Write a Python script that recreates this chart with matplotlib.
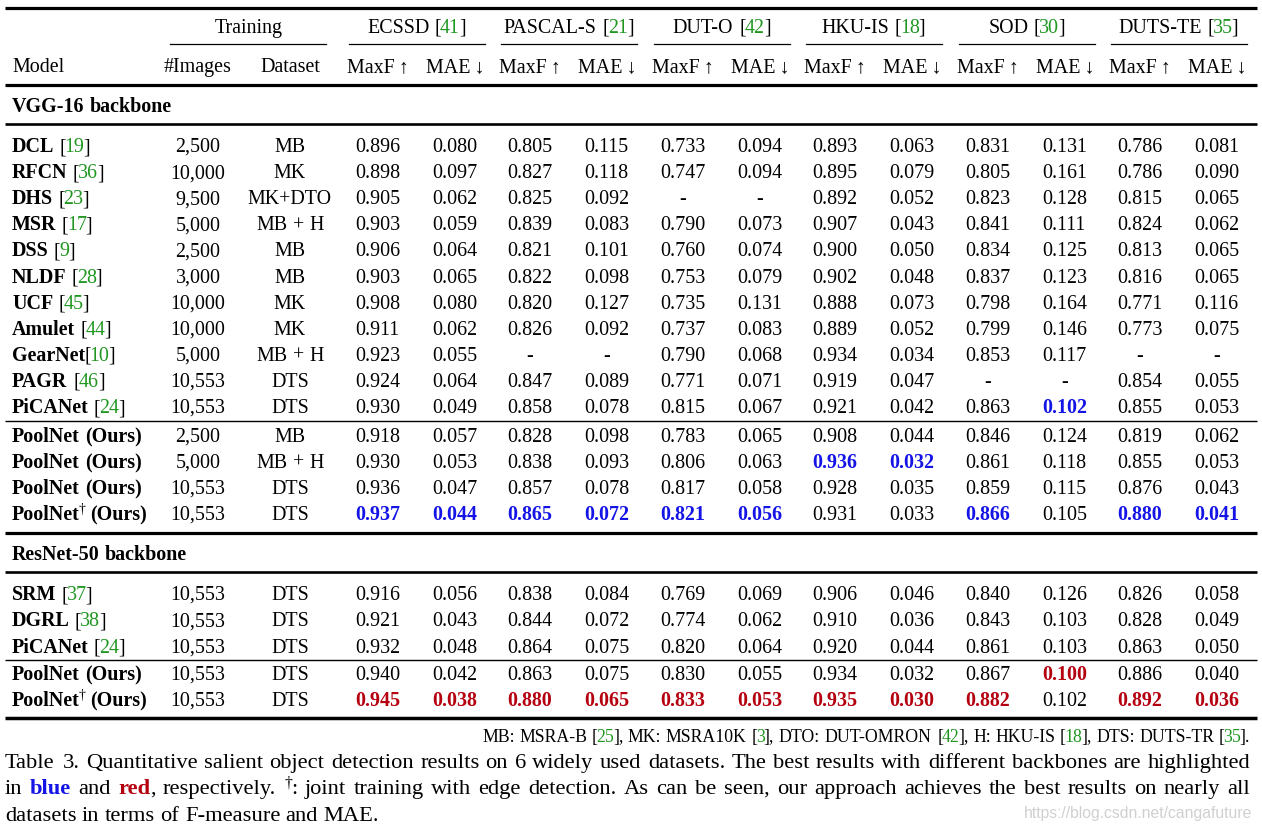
import matplotlib
matplotlib.use("Agg")
import matplotlib.pyplot as plt
from matplotlib.font_manager import FontProperties, findfont
from matplotlib.ft2font import FT2Font

# ---- table data ----
datasets = ["ECSSD", "PASCAL-S", "DUT-O", "HKU-IS", "SOD", "DUTS-TE"]
dataset_refs = ["41", "21", "42", "18", "30", "35"]

vgg_models = ["DCL", "RFCN", "DHS", "MSR", "DSS", "NLDF", "UCF", "Amulet",
              "GearNet", "PAGR", "PiCANet"]
vgg_refs = ["19", "36", "23", "17", "9", "28", "45", "44", "10", "46", "24"]
vgg_images = ["2,500", "10,000", "9,500", "5,000", "2,500", "3,000", "10,000",
              "10,000", "5,000", "10,553", "10,553"]
vgg_train = ["MB", "MK", "MK+DTO", "MB + H", "MB", "MB", "MK", "MK",
             "MB + H", "DTS", "DTS"]
vgg_scores = [
    [0.896, 0.080, 0.805, 0.115, 0.733, 0.094, 0.893, 0.063, 0.831, 0.131, 0.786, 0.081],
    [0.898, 0.097, 0.827, 0.118, 0.747, 0.094, 0.895, 0.079, 0.805, 0.161, 0.786, 0.090],
    [0.905, 0.062, 0.825, 0.092, None, None, 0.892, 0.052, 0.823, 0.128, 0.815, 0.065],
    [0.903, 0.059, 0.839, 0.083, 0.790, 0.073, 0.907, 0.043, 0.841, 0.111, 0.824, 0.062],
    [0.906, 0.064, 0.821, 0.101, 0.760, 0.074, 0.900, 0.050, 0.834, 0.125, 0.813, 0.065],
    [0.903, 0.065, 0.822, 0.098, 0.753, 0.079, 0.902, 0.048, 0.837, 0.123, 0.816, 0.065],
    [0.908, 0.080, 0.820, 0.127, 0.735, 0.131, 0.888, 0.073, 0.798, 0.164, 0.771, 0.116],
    [0.911, 0.062, 0.826, 0.092, 0.737, 0.083, 0.889, 0.052, 0.799, 0.146, 0.773, 0.075],
    [0.923, 0.055, None, None, 0.790, 0.068, 0.934, 0.034, 0.853, 0.117, None, None],
    [0.924, 0.064, 0.847, 0.089, 0.771, 0.071, 0.919, 0.047, None, None, 0.854, 0.055],
    [0.930, 0.049, 0.858, 0.078, 0.815, 0.067, 0.921, 0.042, 0.863, 0.102, 0.855, 0.053],
]
vgg_ours_dagger = [False, False, False, True]
vgg_ours_images = ["2,500", "5,000", "10,553", "10,553"]
vgg_ours_train = ["MB", "MB + H", "DTS", "DTS"]
vgg_ours_scores = [
    [0.918, 0.057, 0.828, 0.098, 0.783, 0.065, 0.908, 0.044, 0.846, 0.124, 0.819, 0.062],
    [0.930, 0.053, 0.838, 0.093, 0.806, 0.063, 0.936, 0.032, 0.861, 0.118, 0.855, 0.053],
    [0.936, 0.047, 0.857, 0.078, 0.817, 0.058, 0.928, 0.035, 0.859, 0.115, 0.876, 0.043],
    [0.937, 0.044, 0.865, 0.072, 0.821, 0.056, 0.931, 0.033, 0.866, 0.105, 0.880, 0.041],
]

res_models = ["SRM", "DGRL", "PiCANet"]
res_refs = ["37", "38", "24"]
res_images = ["10,553", "10,553", "10,553"]
res_train = ["DTS", "DTS", "DTS"]
res_scores = [
    [0.916, 0.056, 0.838, 0.084, 0.769, 0.069, 0.906, 0.046, 0.840, 0.126, 0.826, 0.058],
    [0.921, 0.043, 0.844, 0.072, 0.774, 0.062, 0.910, 0.036, 0.843, 0.103, 0.828, 0.049],
    [0.932, 0.048, 0.864, 0.075, 0.820, 0.064, 0.920, 0.044, 0.861, 0.103, 0.863, 0.050],
]
res_ours_dagger = [False, True]
res_ours_images = ["10,553", "10,553"]
res_ours_train = ["DTS", "DTS"]
res_ours_scores = [
    [0.940, 0.042, 0.863, 0.075, 0.830, 0.055, 0.934, 0.032, 0.867, 0.100, 0.886, 0.040],
    [0.945, 0.038, 0.880, 0.065, 0.833, 0.053, 0.935, 0.030, 0.882, 0.102, 0.892, 0.036],
]

# ---- style ----
FAM = ["Liberation Serif", "DejaVu Serif"]
GREEN = "#1f961f"
BLUE = "#1414e6"
RED = "#b4000f"
FS = 14.4
DPI = 100

fig = plt.figure(figsize=(12.62, 8.30), dpi=DPI)
ax = fig.add_axes([0, 0, 1, 1])
ax.set_xlim(0, 1262)
ax.set_ylim(830, 0)
ax.axis("off")

_fonts = {}


def advance(text, size, weight):
    # pen advance in pixels, from glyph advances
    if weight not in _fonts:
        _fonts[weight] = FT2Font(findfont(FontProperties(family=FAM[0], weight=weight)))
    f = _fonts[weight]
    f.set_size(size, DPI)
    w = 0.0
    for ch in text:
        g = f.load_char(ord(ch))
        w += g.linearHoriAdvance / 65536.0
    return w


def draw_run(x, y, segs, size=FS, ha="left", justify=None):
    # segs: list of (text, style); style keys: weight, color, sup
    items = []
    cur = []
    for text, st in segs:
        parts = text.split(" ")
        for i, p in enumerate(parts):
            if i > 0:
                if cur:
                    items.append(cur)
                    cur = []
                items.append(None)
            if p:
                cur.append((p, st))
    if cur:
        items.append(cur)
    clean = []
    for it in items:
        if it is None and (not clean or clean[-1] is None):
            continue
        clean.append(it)
    while clean and clean[-1] is None:
        clean.pop()
    objs = []
    total = 0
    nspace = 0
    for it in clean:
        if it is None:
            nspace += 1
            objs.append(None)
            continue
        w_objs = []
        for j, (p, st) in enumerate(it):
            s = size * (0.7 if st.get("sup") else 1.0)
            wt = st.get("weight", "normal")
            t = ax.text(0, y - (7 if st.get("sup") else 0), p, family=FAM, fontsize=s,
                        fontweight=wt, color=st.get("color", "black"),
                        va="baseline", ha="left")
            w = advance(p, s, wt)
            if j < len(it) - 1:
                w -= 1.2  # pieces glued inside one word sit a touch loose
            w_objs.append((t, w))
            total += w
        objs.append(w_objs)
    space = 0.25 * size * DPI / 72
    if justify is not None and nspace > 0:
        space = (justify - total) / nspace
    full = total + nspace * space
    if ha == "center":
        x0 = x - full / 2
    elif ha == "right":
        x0 = x - full
    else:
        x0 = x
    cx = x0
    for o in objs:
        if o is None:
            cx += space
            continue
        for t, w in o:
            t.set_x(cx)
            cx += w


N = {}
B = {"weight": "bold"}
G = {"color": GREEN}

# column positions
x_model = 12
x_images = 198
x_train = 290
col_x = [378, 455, 530, 607, 683, 760, 835, 912, 988, 1065, 1140, 1217]
xl, xr = 5, 1257


def rule(y, lw):
    ax.plot([xl, xr], [y, y], color="black", lw=lw, solid_capstyle="butt")


# header
rule(8, 2.3)
draw_run(249, 33, [("Training", N)], ha="center")
ax.plot([170, 326], [44, 44], color="black", lw=0.9)
for k, (name, ref) in enumerate(zip(datasets, dataset_refs)):
    cx = (col_x[2 * k] + col_x[2 * k + 1]) / 2
    draw_run(cx, 33, [(name + " [", N), (ref, G), ("]", N)], ha="center")
    ax.plot([cx - 68, cx + 68], [44, 44], color="black", lw=0.9)
draw_run(x_model, 72, [("Model", N)])
draw_run(x_images, 72, [("#Images", N)], ha="center")
draw_run(x_train, 72, [("Dataset", N)], ha="center")
for k in range(len(datasets)):
    draw_run(col_x[2 * k], 72, [("MaxF\u2009\u2191", N)], ha="center")
    draw_run(col_x[2 * k + 1], 72, [("MAE\u2009\u2193", N)], ha="center")
rule(85, 2.3)


def fmt(v):
    return "-" if v is None else "%.3f" % v


def best_cells(rows):
    best = []
    for c in range(12):
        vals = [r[c] for r in rows if r[c] is not None]
        best.append(max(vals) if c % 2 == 0 else min(vals))
    return best


def draw_row(y, name_segs, images, train, scores, best, hcolor):
    b = y + 7
    draw_run(x_model, b, name_segs)
    draw_run(x_images, b, [(images, N)], ha="center")
    draw_run(x_train, b, [(train, N)], ha="center")
    for c, v in enumerate(scores):
        if v is not None and v == best[c]:
            st = {"weight": "bold", "color": hcolor}
        else:
            st = N
        draw_run(col_x[c], b, [(fmt(v), st)], ha="center")


def ours_name(dagger):
    if dagger:
        return [("PoolNet", B), ("\u2020", {"weight": "normal", "sup": True}), (" (Ours)", B)]
    return [("PoolNet (Ours)", B)]


def ref_name(name, ref):
    sep = "" if name == "GearNet" else " "
    return [(name, B), (sep + "[", N), (ref, G), ("]", N)]


# VGG block
draw_run(x_model, 112, [("VGG-16 backbone", B)])
rule(124, 1.9)
vbest = best_cells(vgg_scores + vgg_ours_scores)
for i in range(len(vgg_models)):
    draw_row(145 + 26.1 * i, ref_name(vgg_models[i], vgg_refs[i]), vgg_images[i],
             vgg_train[i], vgg_scores[i], vbest, BLUE)
rule(421, 1.0)
for i in range(len(vgg_ours_scores)):
    draw_row(435 + 26 * i, ours_name(vgg_ours_dagger[i]), vgg_ours_images[i],
             vgg_ours_train[i], vgg_ours_scores[i], vbest, BLUE)
rule(533, 2.3)

# ResNet block
draw_run(x_model, 560, [("ResNet-50 backbone", B)])
rule(572, 1.9)
rbest = best_cells(res_scores + res_ours_scores)
for i in range(len(res_models)):
    draw_row(593 + 26.4 * i, ref_name(res_models[i], res_refs[i]), res_images[i],
             res_train[i], res_scores[i], rbest, RED)
rule(660, 1.0)
for i in range(len(res_ours_scores)):
    draw_row(673 + 26 * i, ours_name(res_ours_dagger[i]), res_ours_images[i],
             res_ours_train[i], res_ours_scores[i], rbest, RED)
rule(718, 2.5)

# footnote
draw_run(1250, 742, [("MB: MSRA-B [", N), ("25", G), ("], MK: MSRA10K [", N), ("3", G),
                     ("], DTO: DUT-OMRON [", N), ("42", G), ("], H: HKU-IS [", N), ("18", G),
                     ("], DTS: DUTS-TR [", N), ("35", G), ("].", N)], size=12.8, ha="right")

# caption
CS = 16.2
draw_run(5, 768, [("Table 3. Quantitative salient object detection results on 6 widely used "
                   "datasets.  The best results with different backbones are highlighted", N)],
         size=CS, justify=1245)
draw_run(5, 794, [("in ", N), ("blue", {"weight": "bold", "color": BLUE}), (" and ", N),
                  ("red", {"weight": "bold", "color": RED}), (", respectively. ", N),
                  ("\u2020", {"sup": True}), (": joint training with edge detection.  As can "
                   "be seen, our approach achieves the best results on nearly all", N)],
         size=CS, justify=1245)
draw_run(5, 821, [("datasets in terms of F-measure and MAE.", N)], size=CS)

# watermark
ax.text(1252, 818, "https://blog.csdn.net/cangafuture", family="Liberation Sans",
        fontsize=11.3, color="#d0d0d0", ha="right", va="baseline")

fig.savefig("out.png", dpi=DPI)
